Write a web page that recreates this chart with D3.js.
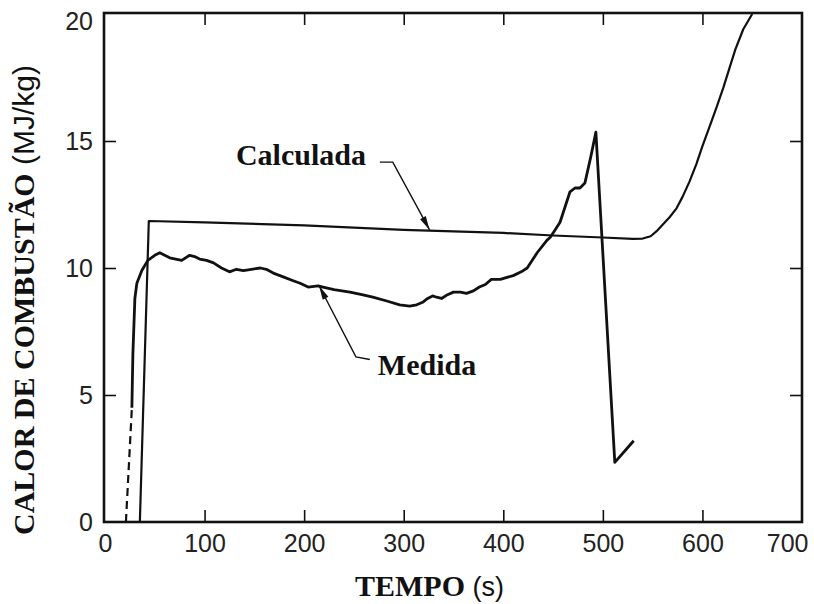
<!DOCTYPE html>
<html>
<head>
<meta charset="utf-8">
<script src="https://cdn.jsdelivr.net/npm/d3@7/dist/d3.min.js"></script>
<style>
  html, body { margin: 0; padding: 0; background: #fff; }
  svg { display: block; }
</style>
</head>
<body>
<svg id="chart" width="814" height="604"></svg>
<script>
// ---------------- data ----------------
const xTicks = [0, 100, 200, 300, 400, 500, 600, 700];
const yTicks = [0, 5, 10, 15, 20];

// Calculated heat of combustion (thin line)
const calcT = [35, 44, 100, 200, 300, 400, 450, 500, 530, 540, 548, 554, 560, 567, 574, 580, 587, 594, 600, 607, 614, 621, 627, 633, 641, 650];
const calcV = [0, 11.85, 11.8, 11.68, 11.5, 11.38, 11.28, 11.2, 11.15, 11.16, 11.25, 11.45, 11.7, 12.0, 12.35, 12.8, 13.4, 14.1, 14.8, 15.55, 16.3, 17.1, 17.85, 18.6, 19.4, 20.0];

// Measured heat of combustion (thick line) — dashed lead-in then solid
const measDashT = [21, 27];
const measDashV = [0, 4.5];
const measT = [27, 28, 30, 32, 37, 43, 50, 55, 60, 65, 71, 77, 85, 90, 95, 102, 109, 117, 125, 132, 139, 147, 156, 162, 169, 179, 189, 196, 204, 214, 219, 230, 246, 258, 269, 283, 296, 306, 313, 319, 324, 329, 333, 338, 344, 350, 357, 363, 370, 376, 382, 388, 397, 410, 418, 424, 434, 444, 447, 452, 457, 462, 467, 472, 477, 482, 488, 493, 512, 531];
const measV = [4.5, 6.6, 8.8, 9.4, 9.9, 10.3, 10.5, 10.6, 10.5, 10.4, 10.35, 10.3, 10.5, 10.45, 10.35, 10.3, 10.2, 10.0, 9.85, 9.95, 9.9, 9.95, 10.0, 9.95, 9.8, 9.65, 9.5, 9.4, 9.25, 9.3, 9.25, 9.15, 9.05, 8.95, 8.85, 8.7, 8.55, 8.5, 8.55, 8.65, 8.8, 8.9, 8.85, 8.8, 8.95, 9.05, 9.05, 9.0, 9.1, 9.25, 9.35, 9.55, 9.55, 9.7, 9.85, 10.0, 10.6, 11.1, 11.2, 11.5, 11.8, 12.4, 13.0, 13.15, 13.15, 13.35, 14.4, 15.35, 2.35, 3.2];

const labelCalc = "Calculada";
const labelMeas = "Medida";
const xTitle = "TEMPO";
const xUnit = "(s)";
const yTitle = "CALOR DE COMBUSTÃO";
const yUnit = "(MJ/kg)";

// ---------------- drawing ----------------
const svg = d3.select("#chart");
const L = 104, R = 802, T = 13, B = 522;
const x = d3.scaleLinear().domain([0, 700]).range([105, 802]);
const y = d3.scaleLinear().domain([0, 20]).range([B, T + 1]);

const serif = "'Liberation Serif', 'Times New Roman', serif";
const sans = "'Liberation Sans', Arial, Helvetica, sans-serif";
const ink = "#111";

// axes with inward ticks
function styleAxis(g) {
  g.select(".domain").remove();
  g.selectAll(".tick line").attr("stroke", ink).attr("stroke-width", 1.6);
  g.selectAll(".tick text").attr("fill", "#222").style("font-family", sans).style("font-size", "25px");
}
svg.append("g").attr("transform", `translate(0,${B})`)
  .call(d3.axisBottom(x).tickValues(xTicks).tickSizeInner(-12).tickSizeOuter(0).tickPadding(12).tickFormat(d3.format("d")))
  .call(styleAxis)
  .call(g => g.selectAll(".tick").filter(d => d === 0 || d === 700).select("line").remove())
  .call(g => g.selectAll(".tick").filter(d => d === 700).select("text").attr("text-anchor", "end").attr("x", 6));
svg.append("g").attr("transform", `translate(${L},0)`)
  .call(d3.axisLeft(y).tickValues(yTicks).tickSizeInner(-12).tickSizeOuter(0).tickPadding(11).tickFormat(d3.format("d")))
  .call(styleAxis)
  .call(g => g.selectAll(".tick").filter(d => d === 0 || d === 20).select("line").remove())
  .call(g => g.selectAll(".tick").filter(d => d === 20).select("text").attr("dy", "0.62em"));
svg.append("g").attr("transform", `translate(0,${T})`)
  .call(d3.axisTop(x).tickValues(xTicks.filter(d => d > 0 && d < 700)).tickSizeInner(-12).tickSizeOuter(0).tickFormat(""))
  .call(styleAxis);
svg.append("g").attr("transform", `translate(${R},0)`)
  .call(d3.axisRight(y).tickValues(yTicks.filter(d => d > 0 && d < 20)).tickSizeInner(-12).tickSizeOuter(0).tickFormat(""))
  .call(styleAxis);

// frame
svg.append("rect").attr("x", L).attr("y", T).attr("width", R - L).attr("height", B - T)
  .attr("fill", "none").attr("stroke", ink).attr("stroke-width", 2.6);

// lines
const line = d3.line().x(d => x(d[0])).y(d => y(d[1]));
const smooth = d3.line().x(d => x(d[0])).y(d => y(d[1])).curve(d3.curveMonotoneX);
svg.append("path").datum(calcT.map((t, i) => [t, calcV[i]]))
  .attr("d", line).attr("fill", "none").attr("stroke", ink).attr("stroke-width", 2.2).attr("stroke-linejoin", "round");
svg.append("path").datum(measDashT.map((t, i) => [t, measDashV[i]]))
  .attr("d", line).attr("fill", "none").attr("stroke", ink).attr("stroke-width", 2.2).attr("stroke-dasharray", "8,5");
svg.append("path").datum(measT.map((t, i) => [t, measV[i]]))
  .attr("d", line).attr("fill", "none").attr("stroke", ink).attr("stroke-width", 2.8).attr("stroke-linejoin", "round");

// annotations (in data coordinates)
function leader(pts) {
  const p = pts.map(d => [x(d[0]), y(d[1])]);
  svg.append("path").attr("d", d3.line()(p)).attr("fill", "none").attr("stroke", ink).attr("stroke-width", 1.4);
  const a = p[p.length - 2], b = p[p.length - 1];
  const ang = Math.atan2(b[1] - a[1], b[0] - a[0]);
  const len = 14, w = 3.2;
  const bx = b[0] - len * Math.cos(ang), by = b[1] - len * Math.sin(ang);
  const px = -Math.sin(ang) * w, py = Math.cos(ang) * w;
  svg.append("path").attr("d", `M${b[0]},${b[1]}L${bx + px},${by + py}L${bx - px},${by - py}Z`).attr("fill", ink);
}
leader([[276, 14.17], [289, 14.17], [326, 11.5]]);
leader([[266, 6.4], [252, 6.5], [215, 9.3]]);

svg.append("text").attr("x", x(131.5)).attr("y", y(14.05)).text(labelCalc)
  .style("font-family", serif).style("font-weight", "bold").style("font-size", "30px").attr("fill", ink);
svg.append("text").attr("x", x(274)).attr("y", y(5.8)).text(labelMeas)
  .style("font-family", serif).style("font-weight", "bold").style("font-size", "30px").attr("fill", ink);

// axis titles
const xt = svg.append("text").attr("x", 355).attr("y", 596).attr("fill", ink);
xt.append("tspan").text(xTitle).style("font-family", serif).style("font-weight", "bold").style("font-size", "30px");
xt.append("tspan").text(" " + xUnit).style("font-family", sans).style("font-size", "27px");

const yt = svg.append("text").attr("transform", "translate(34,535) rotate(-90)").attr("fill", ink);
yt.append("tspan").text(yTitle).style("font-family", serif).style("font-weight", "bold").style("font-size", "30px");
yt.append("tspan").text(" " + yUnit).style("font-family", sans).style("font-size", "30px");
</script>
</body>
</html>
